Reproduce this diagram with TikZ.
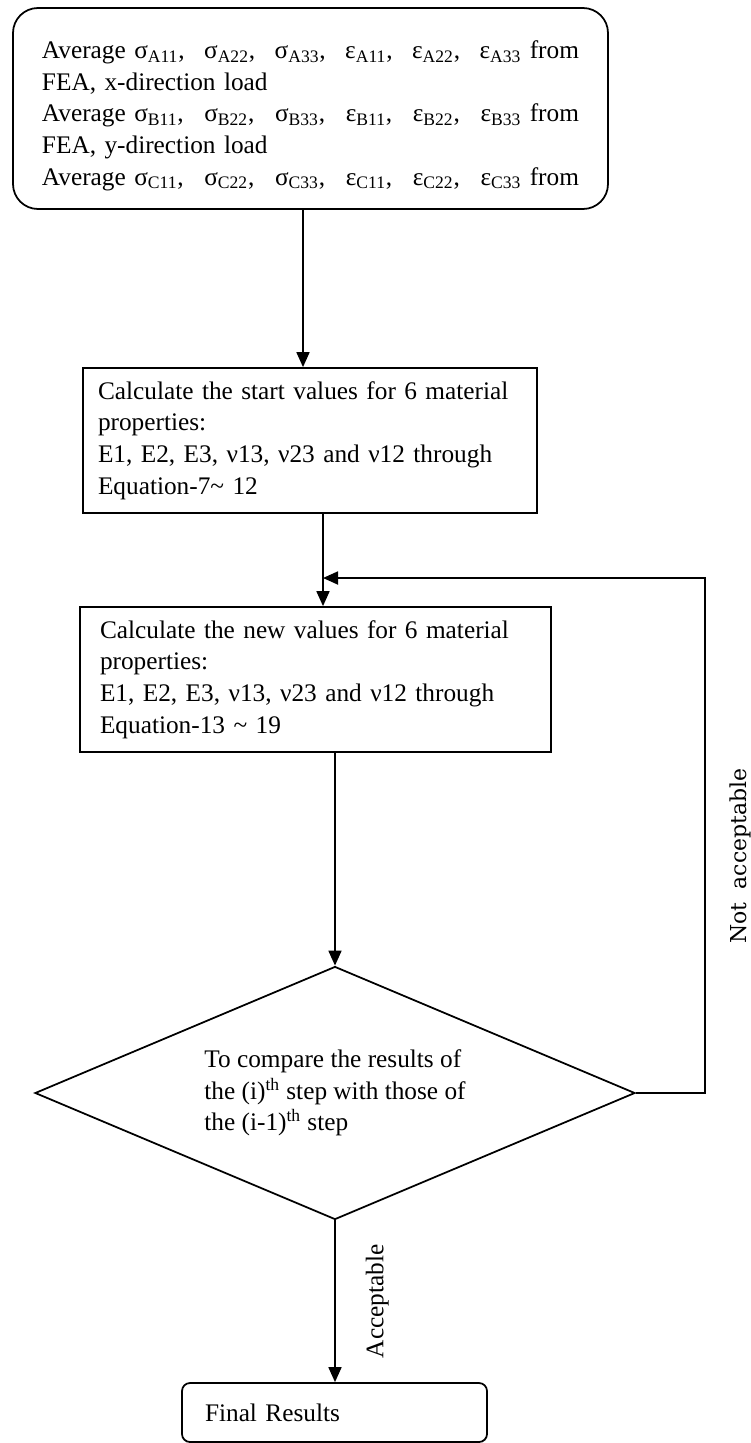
\documentclass[tikz,border=0pt]{standalone}
\usepackage{fontspec}
\setmainfont{Liberation Serif}
\newfontfamily\notfont{DejaVu Serif}
\usetikzlibrary{arrows.meta,positioning,shapes.geometric}
\setlength{\parindent}{0pt}
\newcommand{\fullline}[1]{\makebox[10.74cm][l]{#1}}
\tikzset{
    stepbox/.style={
        draw,line width=1pt,align=left,
        font=\fontsize{14.4}{18}\selectfont
    },
    decision/.style={
        draw,line width=1pt,shape=diamond,aspect=2.37,inner sep=0pt,
        align=left,font=\fontsize{14.4}{18}\selectfont
    },
    arrow/.style={
        -{Triangle[length=0.3cm,width=0.26cm]},line width=1pt
    },
    answer/.style={
        font=\fontsize{14.4}{18}\selectfont
    }
}
\begin{document}
\begin{tikzpicture}[x=1cm,y=1cm]
\useasboundingbox (0,0) rectangle (15,-28.86);

\node[stepbox,rounded corners=0.5cm,text width=10.74cm,inner xsep=0.58cm,
minimum height=4.02cm]
(avg) at (6.21,-2.17)
{\rule{0pt}{0.64cm}%
\fullline{Average σ\textsubscript{A11}, \hfill σ\textsubscript{A22}, \hfill σ\textsubscript{A33}, \hfill ε\textsubscript{A11}, \hfill ε\textsubscript{A22}, \hfill ε\textsubscript{A33} from}\\
FEA, x-direction load\\
\fullline{Average σ\textsubscript{B11}, \hfill σ\textsubscript{B22}, \hfill σ\textsubscript{B33}, \hfill ε\textsubscript{B11}, \hfill ε\textsubscript{B22}, \hfill ε\textsubscript{B33} from}\\
FEA, y-direction load\\
\fullline{Average σ\textsubscript{C11}, \hfill σ\textsubscript{C22}, \hfill σ\textsubscript{C33}, \hfill ε\textsubscript{C11}, \hfill ε\textsubscript{C22}, \hfill ε\textsubscript{C33} from}};

\node[stepbox,text width=8.48cm,inner xsep=0.3cm,minimum height=2.9cm]
(start) at (6.2,-8.81)
{Calculate the start values for 6 material\\
properties:\\
E1, E2, E3, ν13, ν23 and ν12 through\\
Equation-7\char`~{} 12};

\node[stepbox,text width=8.62cm,inner xsep=0.4cm,minimum height=2.9cm]
(update) at (6.31,-13.59)
{Calculate the new values for 6 material\\
properties:\\
E1, E2, E3, ν13, ν23 and ν12 through\\
Equation-13 \char`~{} 19};

\node[decision,minimum width=12cm,minimum height=5.06cm]
(compare) at (6.7,-21.86)
{To compare the results of\\
the (i)\textsuperscript{th} step with those of\\
the (i-1)\textsuperscript{th} step};

\node[stepbox,rounded corners=0.16cm,text width=5.18cm,inner xsep=0.46cm,
minimum height=1.18cm]
(final) at (6.69,-28.25)
{Final Results};

\coordinate (down) at (6.06,0);
\coordinate (join) at (6.46,-11.56);
\coordinate (back) at (14.1,-11.56);

\draw[arrow] (avg.south -| down) -- (start.north -| down);
\draw[arrow] (start.south -| join) -- (update.north -| join);
\draw[arrow] (update.south -| compare.north) -- (compare.north);
\draw[arrow] (compare.east) -| (back)
node[pos=0.73,rotate=90,anchor=north,inner ysep=0.48cm,
font=\notfont\fontsize{12.5}{15}\selectfont] {Not\hspace{0.6em}acceptable}
-- (join);
\draw[arrow] (compare.south) -- (compare.south |- final.north)
node[midway,rotate=90,anchor=north,inner ysep=0.6cm,answer] {Acceptable};

\end{tikzpicture}
\end{document}
